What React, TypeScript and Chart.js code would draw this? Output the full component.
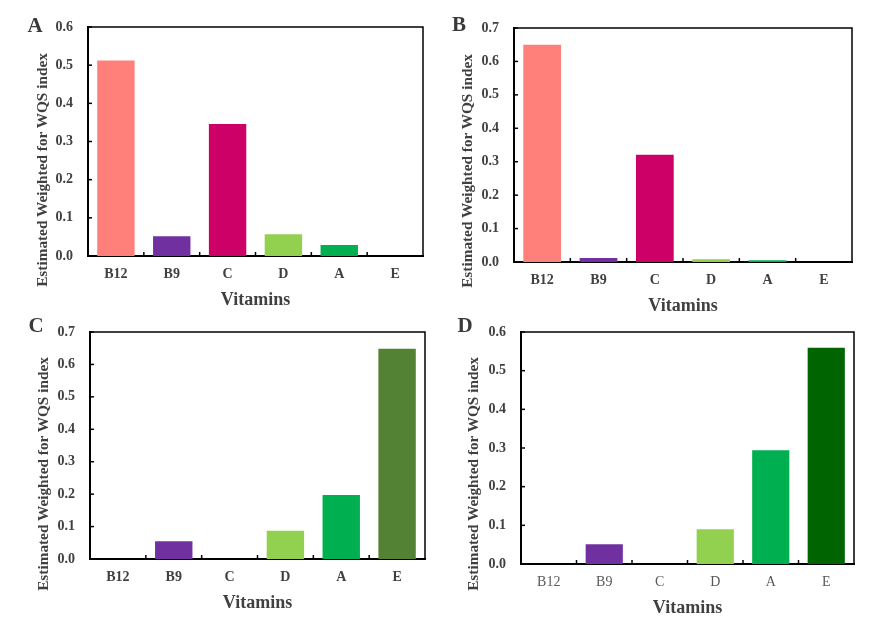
import { useEffect, useRef } from 'react'
import Chart from 'chart.js/auto'

const vitamins = ['B12', 'B9', 'C', 'D', 'A', 'E']

// estimated WQS weights
const weightsA = [0.512, 0.052, 0.346, 0.057, 0.029, 0]
const weightsB = [0.65, 0.012, 0.321, 0.008, 0.005, 0]
const weightsC = [0, 0.055, 0, 0.087, 0.197, 0.648]
const weightsD = [0, 0.051, 0, 0.09, 0.294, 0.559]

const yMaxA = 0.6
const yMaxB = 0.7
const yMaxC = 0.7
const yMaxD = 0.6

const colorsOlive = ['#FF7F7A', '#7030A0', '#CC0066', '#92D050', '#00B050', '#548235']
const colorsDark = ['#FF7F7A', '#7030A0', '#CC0066', '#92D050', '#00B050', '#006400']

const FONT = "'Liberation Serif', 'Times New Roman', serif"
const TEXT = '#404040'
const YW = 60
const XH = 55
const TOP = 26 // must exceed half a tick label + tick padding, or chart.js pushes the area down

const framePlugin = {
  id: 'frame',
  afterDraw(chart: any) {
    const { ctx, chartArea: a, scales } = chart
    ctx.save()
    ctx.strokeStyle = '#000'
    ctx.lineWidth = 1.5
    ctx.beginPath()
    ctx.moveTo(a.left, a.top)
    ctx.lineTo(a.right, a.top)
    ctx.lineTo(a.right, a.bottom)
    ctx.stroke()
    // inward ticks
    const y = scales.y
    y.ticks.forEach((t: any) => {
      const py = y.getPixelForValue(t.value)
      ctx.beginPath()
      ctx.moveTo(a.left, py)
      ctx.lineTo(a.left + 4, py)
      ctx.stroke()
    })
    const x = scales.x
    const half = (x.getPixelForValue(1) - x.getPixelForValue(0)) / 2
    for (let i = 1; i < vitamins.length; i++) {
      const px = x.getPixelForValue(i) - half
      ctx.beginPath()
      ctx.moveTo(px, a.bottom)
      ctx.lineTo(px, a.bottom - 4)
      ctx.stroke()
    }
    ctx.restore()
  },
}

type Area = { left: number; top: number; right: number; bottom: number }

const Panel = ({ values, colors, yMax, area, boldTicks }: { values: number[]; colors: string[]; yMax: number; area: Area; boldTicks: boolean }) => {
  const chartRef = useRef<any>(null)

  useEffect(() => {
    const ctx = chartRef.current.getContext('2d')
    const chart = new Chart(ctx, {
      type: 'bar',
      data: {
        labels: vitamins,
        datasets: [{
          data: values,
          backgroundColor: colors,
          barPercentage: 0.67,
          categoryPercentage: 1,
        }],
      },
      options: {
        animation: false,
        responsive: true,
        maintainAspectRatio: false,
        layout: { padding: { left: 0, top: TOP, right: 10, bottom: 0 } },
        plugins: { legend: { display: false }, tooltip: { enabled: false } },
        scales: {
          x: {
            grid: { display: false, drawTicks: false },
            border: { display: true, color: '#000', width: 2 },
            ticks: {
              padding: 10,
              color: boldTicks ? TEXT : '#595959',
              font: { family: FONT, size: 14, weight: boldTicks ? 'bold' : 'normal' },
            },
            title: {
              display: true,
              text: 'Vitamins',
              color: TEXT,
              padding: { top: 0, bottom: 0 },
              font: { family: FONT, size: 18, weight: 'bold' },
            },
            afterFit: (s: any) => { s.height = XH },
          },
          y: {
            min: 0,
            max: yMax,
            grid: { display: false, drawTicks: false },
            border: { display: true, color: '#000', width: 2 },
            ticks: {
              stepSize: 0.1,
              padding: 15,
              color: TEXT,
              font: { family: FONT, size: 14, weight: 'bold' },
              callback: (v: any) => Number(v).toFixed(1),
            },
            afterFit: (s: any) => { s.width = YW },
          },
        },
      },
      plugins: [framePlugin],
    })
    return () => chart.destroy()
  }, [values])

  return (
    <div style={{
      position: 'absolute',
      left: area.left - YW,
      top: area.top - TOP,
      width: area.right - area.left + YW + 10,
      height: area.bottom - area.top + TOP + XH,
    }}>
      <canvas ref={chartRef}></canvas>
    </div>
  )
}

const Letter = ({ text, x, y }: { text: string; x: number; y: number }) => (
  <div style={{
    position: 'absolute', left: x, top: y, transform: 'translate(-50%, -50%)',
    fontFamily: FONT, fontWeight: 'bold', fontSize: 21, color: '#3a3a3a', lineHeight: 1,
  }}>{text}</div>
)

const YTitle = ({ x, y }: { x: number; y: number }) => (
  <div style={{
    position: 'absolute', left: x, top: y, transform: 'translate(-50%, -50%) rotate(-90deg)',
    fontFamily: FONT, fontWeight: 'bold', fontSize: 15.3, color: TEXT, whiteSpace: 'nowrap', lineHeight: 1,
  }}>Estimated Weighted for WQS index</div>
)

export default function App() {
  return (
    <div style={{ position: 'absolute', left: 0, top: 0, width: 870, height: 620, background: '#fff' }}>
      <Panel values={weightsA} colors={colorsOlive} yMax={yMaxA} boldTicks={true} area={{ left: 88, top: 27, right: 423, bottom: 256 }} />
      <Panel values={weightsB} colors={colorsOlive} yMax={yMaxB} boldTicks={true} area={{ left: 514, top: 28, right: 852, bottom: 262 }} />
      <Panel values={weightsC} colors={colorsOlive} yMax={yMaxC} boldTicks={true} area={{ left: 90, top: 332, right: 425, bottom: 559 }} />
      <Panel values={weightsD} colors={colorsDark} yMax={yMaxD} boldTicks={false} area={{ left: 521, top: 332, right: 854, bottom: 564 }} />
      <YTitle x={42} y={170} />
      <YTitle x={467} y={171} />
      <YTitle x={43} y={474} />
      <YTitle x={473} y={474} />
      <Letter text="A" x={35} y={25} />
      <Letter text="B" x={459} y={24} />
      <Letter text="C" x={36} y={325} />
      <Letter text="D" x={465} y={325} />
    </div>
  )
}
